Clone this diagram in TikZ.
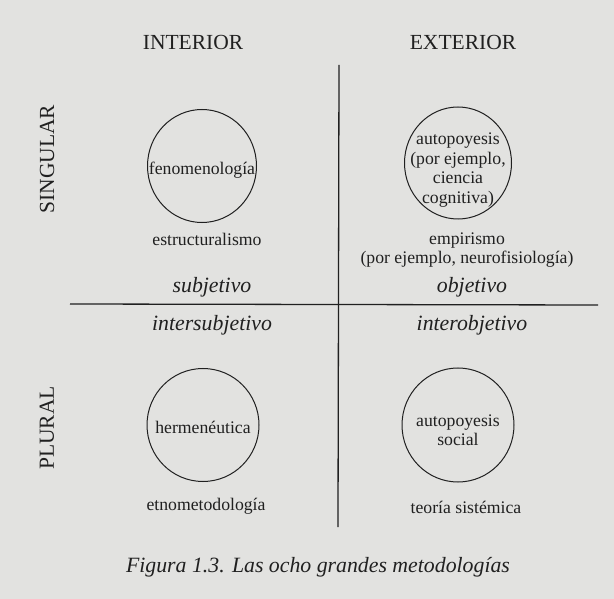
\documentclass[tikz,border=0pt]{standalone}
\usepackage{fontspec}
\setmainfont{Liberation Serif}
\usepackage{xcolor}
\usepackage{tikz}
\usetikzlibrary{positioning}
\usetikzlibrary{shapes.geometric}

\definecolor{paper}{RGB}{226,226,224}
\definecolor{ink}{RGB}{32,32,32}

\begin{document}
\begin{tikzpicture}[x=1pt,y=-1pt,
		ring/.style={draw=ink,line width=1pt,ellipse,inner sep=0pt,minimum width=109pt,minimum height=113pt},
		heading/.style={text=ink,font=\fontsize{21.5}{24}\selectfont},
		term/.style={text=ink,align=center,font=\fontsize{17.7}{19.5}\selectfont},
		zone/.style={text=ink,font=\fontsize{21.8}{24}\selectfont\itshape},
		axis/.style={draw=ink,line width=1.3pt}]
		\fill[paper] (0,0) rectangle (614,599);
		\useasboundingbox (0,0) rectangle (614,599);
		% headings
		\node[heading] (interior) at (193,42) {INTERIOR};
		\node[heading] (exterior) at (463,42) {EXTERIOR};
		\node[heading,rotate=90] (singular) at (47,159) {SINGULAR};
		\node[heading,rotate=90] (plural) at (47,428) {PLURAL};
		% axes
		\coordinate (vtop) at (339,65);
		\coordinate (vbot) at (338,527);
		\coordinate (hleft) at (70,304);
		\coordinate (hright) at (598,305);
		\draw[axis] (vtop) -- (vbot);
		\draw[axis] (hleft) -- (hright);
		% circles
		\node[ring] (fenomeno) at (202,166) {};
		\node[ring,minimum width=107pt,minimum height=112pt] (autoind) at (458,163) {};
		\node[ring,minimum width=112pt] (hermen) at (203,425) {};
		\node[ring,minimum width=112pt,minimum height=114pt] (autosoc) at (458,425) {};
		\node[term] at (202,170) {fenomenología};
		\node[term] at (458,170) {autopoyesis\\(por ejemplo,\\ciencia\\cognitiva)};
		\node[term] at (203,427) {hermenéutica};
		\node[term] at (458,430) {autopoyesis\\social};
		% methods
		\node[term] (estruct) at (207,239) {estructuralismo};
		\node[term] (empir) at (467,250) {empirismo\\(por ejemplo, neurofisiología)};
		\node[term] (etno) at (206,506) {etnometodología};
		\node[term] (sistem) at (466,507) {teoría sistémica};
		% zones
		\node[zone] (subj) at (212,287) {subjetivo};
		\node[zone] (obj) at (472,287) {objetivo};
		\node[zone] (intersubj) at (212,325) {intersubjetivo};
		\node[zone] (interobj) at (472,325) {interobjetivo};
		\node[zone] (caption) at (318,567) {Figura 1.3. Las ocho grandes metodologías};
	\end{tikzpicture}
\end{document}
